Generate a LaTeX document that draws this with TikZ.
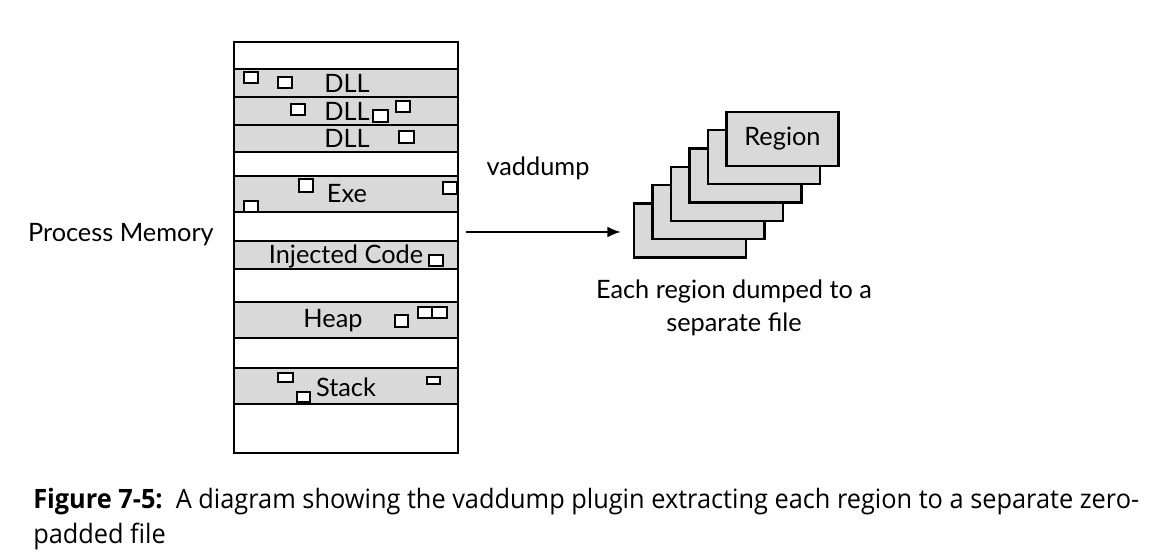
\documentclass[tikz,border=0pt]{standalone}
\usepackage{fontspec}
\setmainfont{Lato}
\newfontfamily\capfont{Open Sans}
\usetikzlibrary{positioning,arrows.meta}

\definecolor{bandgray}{RGB}{217,217,217}
\tikzset{
	memline/.style={line width=1.6pt},
	band/.style={fill=bandgray},
	sq/.style={draw, fill=white, line width=1.3pt},
	regbox/.style={draw, line width=1.8pt, fill=bandgray, minimum width=84pt, minimum height=40.5pt},
	lbl/.style={font=\fontsize{19}{22}\selectfont, inner sep=0pt},
	caplbl/.style={anchor=base west, inner sep=0pt, font=\capfont\fontsize{20}{24}\selectfont},
	arr/.style={-{Latex[length=10pt,width=8pt]}, line width=1.3pt}
}

\begin{document}
\begin{tikzpicture}[x=0.75pt,y=0.75pt,yscale=-1,xscale=1]
\useasboundingbox (0,0) rectangle (1152,559);

% gray bands of the memory column
\foreach \t/\b in {69/152,176/212,241/269,302/338,368/404}
	\fill[band] (234,\t) rectangle (458,\b);
\foreach \y in {69,97,125,152,176,212,241,269,302,338,368,404}
	\draw[memline] (234,\y) -- (458,\y);
\node[draw, memline, minimum width=168pt, minimum height=308.25pt, inner sep=0pt] (mem) at (346,247.5) {};

% labels of the regions
\node[lbl] (dll1) at (347,83) {DLL};
\node[lbl] (dll2) at (347,111) {DLL};
\node[lbl] (dll3) at (347,138) {DLL};
\node[lbl] (exe) at (347,194) {Exe};
\node[lbl] (inj) at (346,256) {Injected Code};
\node[lbl] (heap) at (333,321) {Heap};
\node[lbl] (stack) at (346,387) {Stack};

% small pages
\foreach \x/\y/\w/\h in {244/72/14/11, 278/77/14/11, 291/104/14/11, 373/110/15/12, 396/101/14/11,
	399/131/15/12, 299/179/14/13, 443/182/14/12, 244/201/14/11, 429/255/14/11,
	395/315/13/12, 418/307/14/11, 432/307/15/11, 278/373/15/9, 297/392/13/10, 427/377/13/7}
	\draw[sq] (\x,\y) rectangle ++(\w,\h);

\node[lbl, anchor=east] (pm) at (214,235) {Process Memory};

% dumped regions
\foreach \i in {0,...,5}
	\node[regbox] (r\i) at (690+18.5*\i,230.5-18.3*\i) {};
\node[lbl] (reg) at (r5) {Region};

\coordinate (a) at (466,232);
\draw[arr, shorten >=9pt] (a) -- (a -| r0.west);
\node[lbl] (vd) at (538,168) {vaddump};

\node[lbl, align=center] (each) at (734,308) {Each region dumped to a\\[3pt]separate file};

% caption
\node[caplbl] (cap1) at (33,508)
	{\scalebox{0.95}[1]{\textbf{Figure 7-5:}\ \ A diagram showing the vaddump plugin extracting each region to a separate zero-}};
\node[caplbl] (cap2) at (33,543) {\scalebox{0.95}[1]{padded file}};
\end{tikzpicture}
\end{document}
